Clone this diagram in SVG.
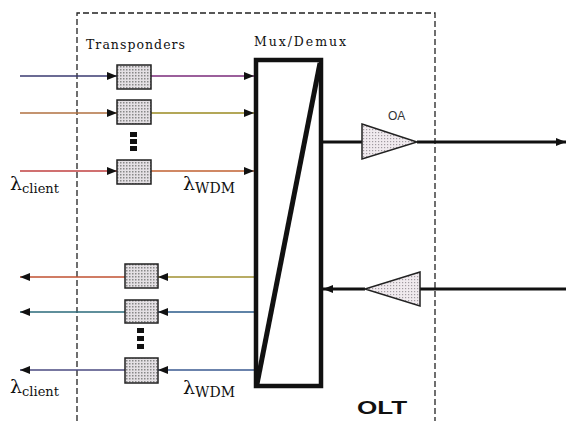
<svg xmlns="http://www.w3.org/2000/svg" width="566" height="421" viewBox="0 0 566 421">
<style>
.ser{font-family:"DejaVu Serif","Liberation Serif",serif;fill:#111}
.tp{stroke:#222;stroke-width:1.5;fill:url(#dots)}
.sig{stroke-width:1.3;fill:none}
.dot{fill:#111}
.thick{stroke:#111;stroke-width:3;fill:none}
</style>
<defs>
<pattern id="dots" width="3" height="3" patternUnits="userSpaceOnUse">
<rect width="3" height="3" fill="#e4e0e4"/>
<rect x="0" y="0" width="1.5" height="1.5" fill="#888"/>
</pattern>
<pattern id="dots2" width="3" height="3" patternUnits="userSpaceOnUse">
<rect width="3" height="3" fill="#f0eaee"/>
<rect x="0" y="0" width="1.2" height="1.2" fill="#a09aa0"/>
</pattern>
<marker id="ah" viewBox="0 0 10 8" refX="10" refY="4" markerWidth="10" markerHeight="8" markerUnits="userSpaceOnUse" orient="auto">
<path d="M0,0 L10,4 L0,8 Z" fill="#111"/>
</marker>
</defs>
<rect width="566" height="421" fill="#fff"/>
<g id="olt-boundary">
<path d="M77,421 V13 H435 V421" fill="none" stroke="#222" stroke-width="1.3" stroke-dasharray="6,3"/>
<text transform="translate(357,414) scale(1.45,1)" font-family="Liberation Sans,Arial,sans-serif" font-weight="bold" font-size="18" fill="#111">OLT</text>
</g>
<g id="connectors">
<line class="sig" x1="20" y1="76" x2="117" y2="76" stroke="#3a3a70" marker-end="url(#ah)"/>
<line class="sig" x1="151" y1="76" x2="254" y2="76" stroke="#7a2a7a" marker-end="url(#ah)"/>
<line class="sig" x1="20" y1="113" x2="117" y2="113" stroke="#b07040" marker-end="url(#ah)"/>
<line class="sig" x1="151" y1="113" x2="254" y2="113" stroke="#9a8a20" marker-end="url(#ah)"/>
<line class="sig" x1="20" y1="171" x2="117" y2="171" stroke="#c04040" marker-end="url(#ah)"/>
<line class="sig" x1="151" y1="171" x2="254" y2="171" stroke="#c06030" marker-end="url(#ah)"/>
<line class="sig" x1="125" y1="277" x2="20" y2="277" stroke="#c05030" marker-end="url(#ah)"/>
<line class="sig" x1="254" y1="277" x2="158" y2="277" stroke="#a09030" marker-end="url(#ah)"/>
<line class="sig" x1="125" y1="312" x2="20" y2="312" stroke="#2a6a7a" marker-end="url(#ah)"/>
<line class="sig" x1="254" y1="312" x2="158" y2="312" stroke="#2a5a8a" marker-end="url(#ah)"/>
<line class="sig" x1="125" y1="370" x2="20" y2="370" stroke="#4a4a80" marker-end="url(#ah)"/>
<line class="sig" x1="254" y1="370" x2="158" y2="370" stroke="#3a5a90" marker-end="url(#ah)"/>
<line class="thick" x1="323" y1="142" x2="362" y2="142"/>
<line class="thick" x1="417" y1="142" x2="566" y2="142" marker-end="url(#ah)"/>
<line class="thick" x1="566" y1="289" x2="420" y2="289"/>
<line class="thick" x1="365" y1="289" x2="323" y2="289" marker-end="url(#ah)"/>
</g>
<g id="transponders-in">
<text class="ser" x="86" y="49" font-size="12.5" textLength="99">Transponders</text>
<rect class="tp" x="117" y="65" width="34" height="24"/>
<rect class="tp" x="117" y="100" width="34" height="24"/>
<rect class="tp" x="117" y="160" width="34" height="24"/>
<rect class="dot" x="130" y="132" width="7" height="5"/>
<rect class="dot" x="130" y="139" width="7" height="5"/>
<rect class="dot" x="130" y="146" width="7" height="5"/>
<text class="ser" x="10" y="190" font-size="19">λ<tspan font-size="13" dy="3">client</tspan></text>
<text class="ser" x="183" y="190" font-size="19">λ<tspan font-size="14" dy="3">WDM</tspan></text>
</g>
<g id="transponders-out">
<rect class="tp" x="125" y="264" width="33" height="24"/>
<rect class="tp" x="125" y="300" width="33" height="23"/>
<rect class="tp" x="125" y="358" width="33" height="25"/>
<rect class="dot" x="137" y="328" width="7" height="5"/>
<rect class="dot" x="137" y="336" width="7" height="5"/>
<rect class="dot" x="137" y="344" width="7" height="5"/>
<text class="ser" x="10" y="393" font-size="19">λ<tspan font-size="13" dy="3">client</tspan></text>
<text class="ser" x="183" y="394" font-size="19">λ<tspan font-size="14" dy="3">WDM</tspan></text>
</g>
<g id="mux-demux">
<text class="ser" x="254" y="46" font-size="12.5" textLength="92">Mux/Demux</text>
<rect x="256" y="60" width="65" height="326" fill="#fff" stroke="#111" stroke-width="4.5"/>
<line x1="320" y1="63" x2="257" y2="384" stroke="#111" stroke-width="5"/>
</g>
<g id="oa-out">
<text x="388" y="120" font-family="Liberation Sans,Arial,sans-serif" font-size="12" fill="#333">OA</text>
<polygon points="362,124 417,142 362,159" fill="url(#dots2)" stroke="#222" stroke-width="1.5"/>
</g>
<g id="oa-in">
<polygon points="420,272 365,289 420,306" fill="url(#dots2)" stroke="#222" stroke-width="1.5"/>
</g>
</svg>
